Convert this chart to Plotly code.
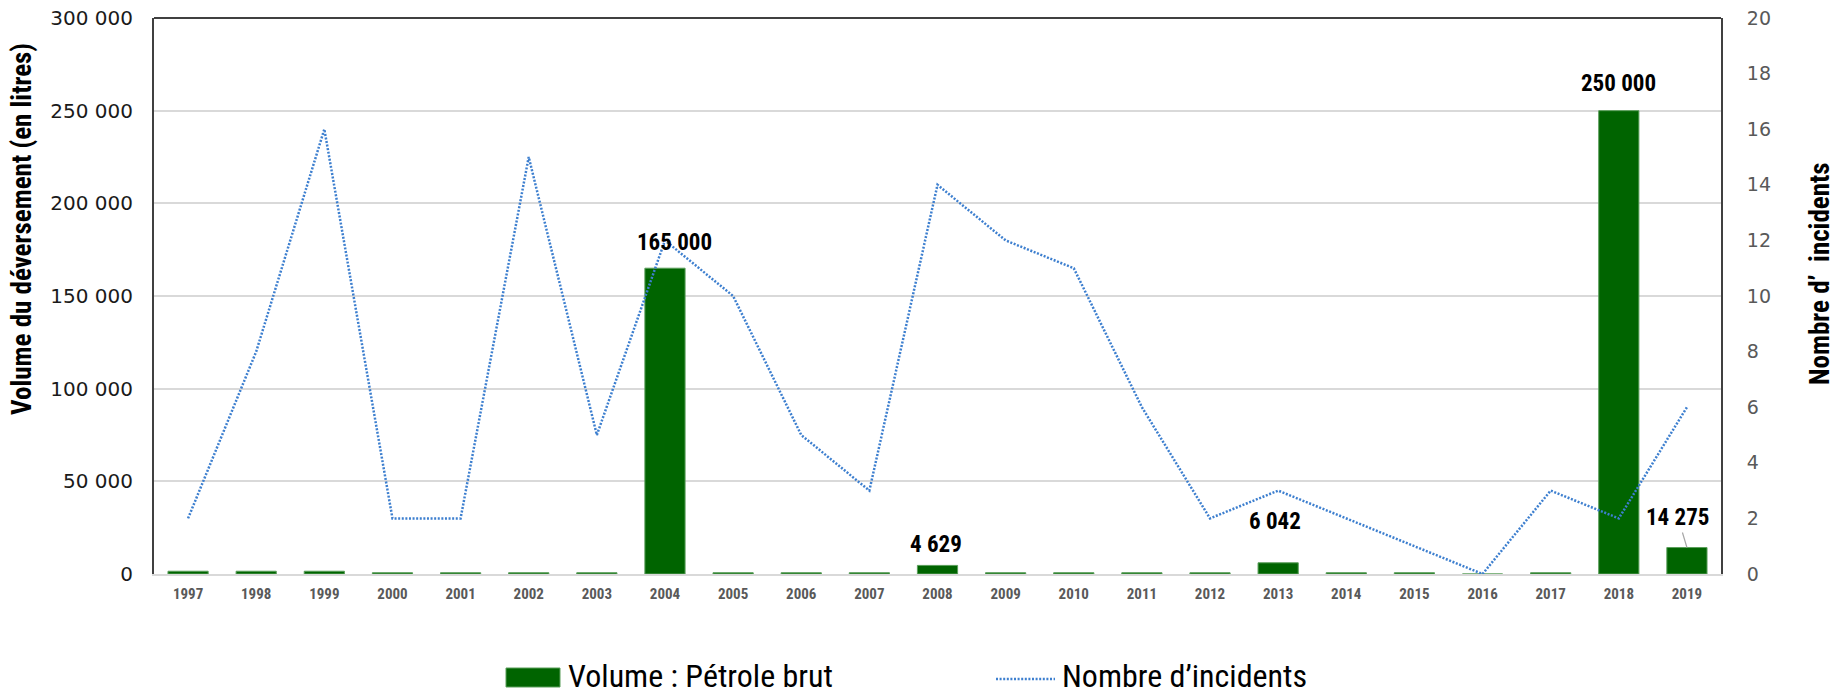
import plotly.graph_objects as go

years = [str(y) for y in range(1997, 2020)]
volume = [1500, 1500, 1500, 700, 700, 700, 700, 165000, 700, 700, 700, 4629, 700, 700,
          700, 700, 6042, 700, 700, 0, 700, 250000, 14275]
incidents = [2, 8, 16, 2, 2, 15, 5, 12, 10, 5, 3, 14, 12, 11, 6, 2, 3, 2, 1, 0, 3, 2, 6]
label_years = ["2004", "2008", "2013", "2018", "2019"]
label_values = [165000, 4629, 6042, 250000, 14275]
label_texts = ["165 000", "4 629", "6 042", "250 000", "14 275"]

NARROW = "Liberation Sans Narrow, Arial Narrow, Roboto Condensed, Lato, sans-serif"
WIDE = "DejaVu Sans, Verdana, sans-serif"
BAR_COLOR = "#006400"
LINE_COLOR = "#3d7fcf"

# plot-area geometry (pixels in the page)
PL, PR, PT, PB = 154, 1721, 18, 574
OFF = 8  # body margin of the page


def px(X):
    return (X - PL) / (PR - PL)


def py(Y):
    return (PB - Y) / (PB - PT)


fig = go.Figure()
fig.add_trace(go.Bar(
    x=years, y=volume, name="Volume : Pétrole brut",
    marker=dict(color=BAR_COLOR, line=dict(color="#5a9e5a", width=1)),
    width=0.59, yaxis="y",
))
fig.add_trace(go.Scatter(
    x=years, y=incidents, name="Nombre d’incidents", mode="lines",
    line=dict(color=LINE_COLOR, width=2.5, dash="2px,1.6px"),
    yaxis="y2",
))

label_style = [
    dict(yshift=26, xshift=10),
    dict(yshift=21, xshift=-2),
    dict(yshift=41, xshift=-3),
    dict(yshift=27, xshift=0),
    None,
]
annotations = []
for yr, val, txt, st in zip(label_years, label_values, label_texts, label_style):
    xi = years.index(yr)
    font = dict(family=NARROW, size=23, color="#000000")
    if st is not None:
        annotations.append(dict(x=xi, y=val, xref="x", yref="y", text="<b>" + txt + "</b>",
                                showarrow=False, xanchor="center", yanchor="middle",
                                font=font, **st))
    else:
        annotations.append(dict(x=xi, y=val, xref="x", yref="y", text="<b>" + txt + "</b>",
                                showarrow=True, arrowhead=0, arrowwidth=1.2, arrowcolor="#a6a6a6",
                                ax=-9, ay=-30, standoff=0, font=font))

# axis titles
annotations.append(dict(text="<b>Volume du déversement (en litres)</b>", textangle=-90,
                        xref="paper", yref="paper", x=px(22), y=py(229), showarrow=False,
                        xanchor="center", yanchor="middle",
                        font=dict(family=NARROW, size=27, color="#000000")))
annotations.append(dict(text="<b>Nombre d’" + "\u00a0" * 2 + "incidents</b>", textangle=-90,
                        xref="paper", yref="paper", x=px(1820), y=py(274), showarrow=False,
                        xanchor="center", yanchor="middle",
                        font=dict(family=NARROW, size=27, color="#000000")))

# legend (drawn)
LEG_Y = 676
annotations.append(dict(text="Volume : Pétrole brut", xref="paper", yref="paper",
                        x=px(566), y=py(LEG_Y), xanchor="left", yanchor="middle", showarrow=False,
                        font=dict(family=NARROW, size=32, color="#000000")))
annotations.append(dict(text="Nombre d’incidents", xref="paper", yref="paper",
                        x=px(1060), y=py(LEG_Y), xanchor="left", yanchor="middle", showarrow=False,
                        font=dict(family=NARROW, size=32, color="#000000")))

shapes = [
    dict(type="line", xref="paper", yref="paper", x0=0, x1=1, y0=1, y1=1,
         line=dict(color="#404040", width=2)),
    dict(type="rect", xref="paper", yref="paper", x0=px(506), x1=px(560), y0=py(687), y1=py(668),
         fillcolor=BAR_COLOR, line=dict(color="#5a9e5a", width=1)),
    dict(type="line", xref="paper", yref="paper", x0=px(996), x1=px(1055), y0=py(LEG_Y + 3),
         y1=py(LEG_Y + 3), line=dict(color=LINE_COLOR, width=2.5, dash="2px,1.6px")),
]

fig.update_layout(
    width=1838 - OFF, height=690 - OFF,
    margin=dict(l=PL - OFF, r=1838 - PR, t=PT - OFF, b=690 - PB),
    paper_bgcolor="white", plot_bgcolor="white",
    separators=", ",
    showlegend=False,
    xaxis=dict(type="category", range=[-0.5, len(years) - 0.5], showgrid=False, showline=True,
               linecolor="#d9d9d9", linewidth=1.5, automargin=False,
               tickfont=dict(family=NARROW, size=15, color="#595959", weight="bold"),
               ticks="", ticklabelstandoff=5),
    yaxis=dict(range=[0, 300000], dtick=50000, tickformat=",d", showgrid=True, gridcolor="#d9d9d9",
               gridwidth=1.5, zeroline=False, showline=True, linecolor="#404040", linewidth=2,
               automargin=False, ticklabeloverflow="allow",
               tickfont=dict(family=WIDE, size=20, color="#1a1a1a"), ticks="", ticklabelstandoff=15),
    yaxis2=dict(range=[0, 20], dtick=2, overlaying="y", side="right", showgrid=False, zeroline=False,
                showline=True, linecolor="#404040", linewidth=2, automargin=False,
                ticklabeloverflow="allow",
                tickfont=dict(family=WIDE, size=19, color="#595959"), ticks="", ticklabelstandoff=20),
    annotations=annotations,
    shapes=shapes,
)

fig.write_html("out.html")
